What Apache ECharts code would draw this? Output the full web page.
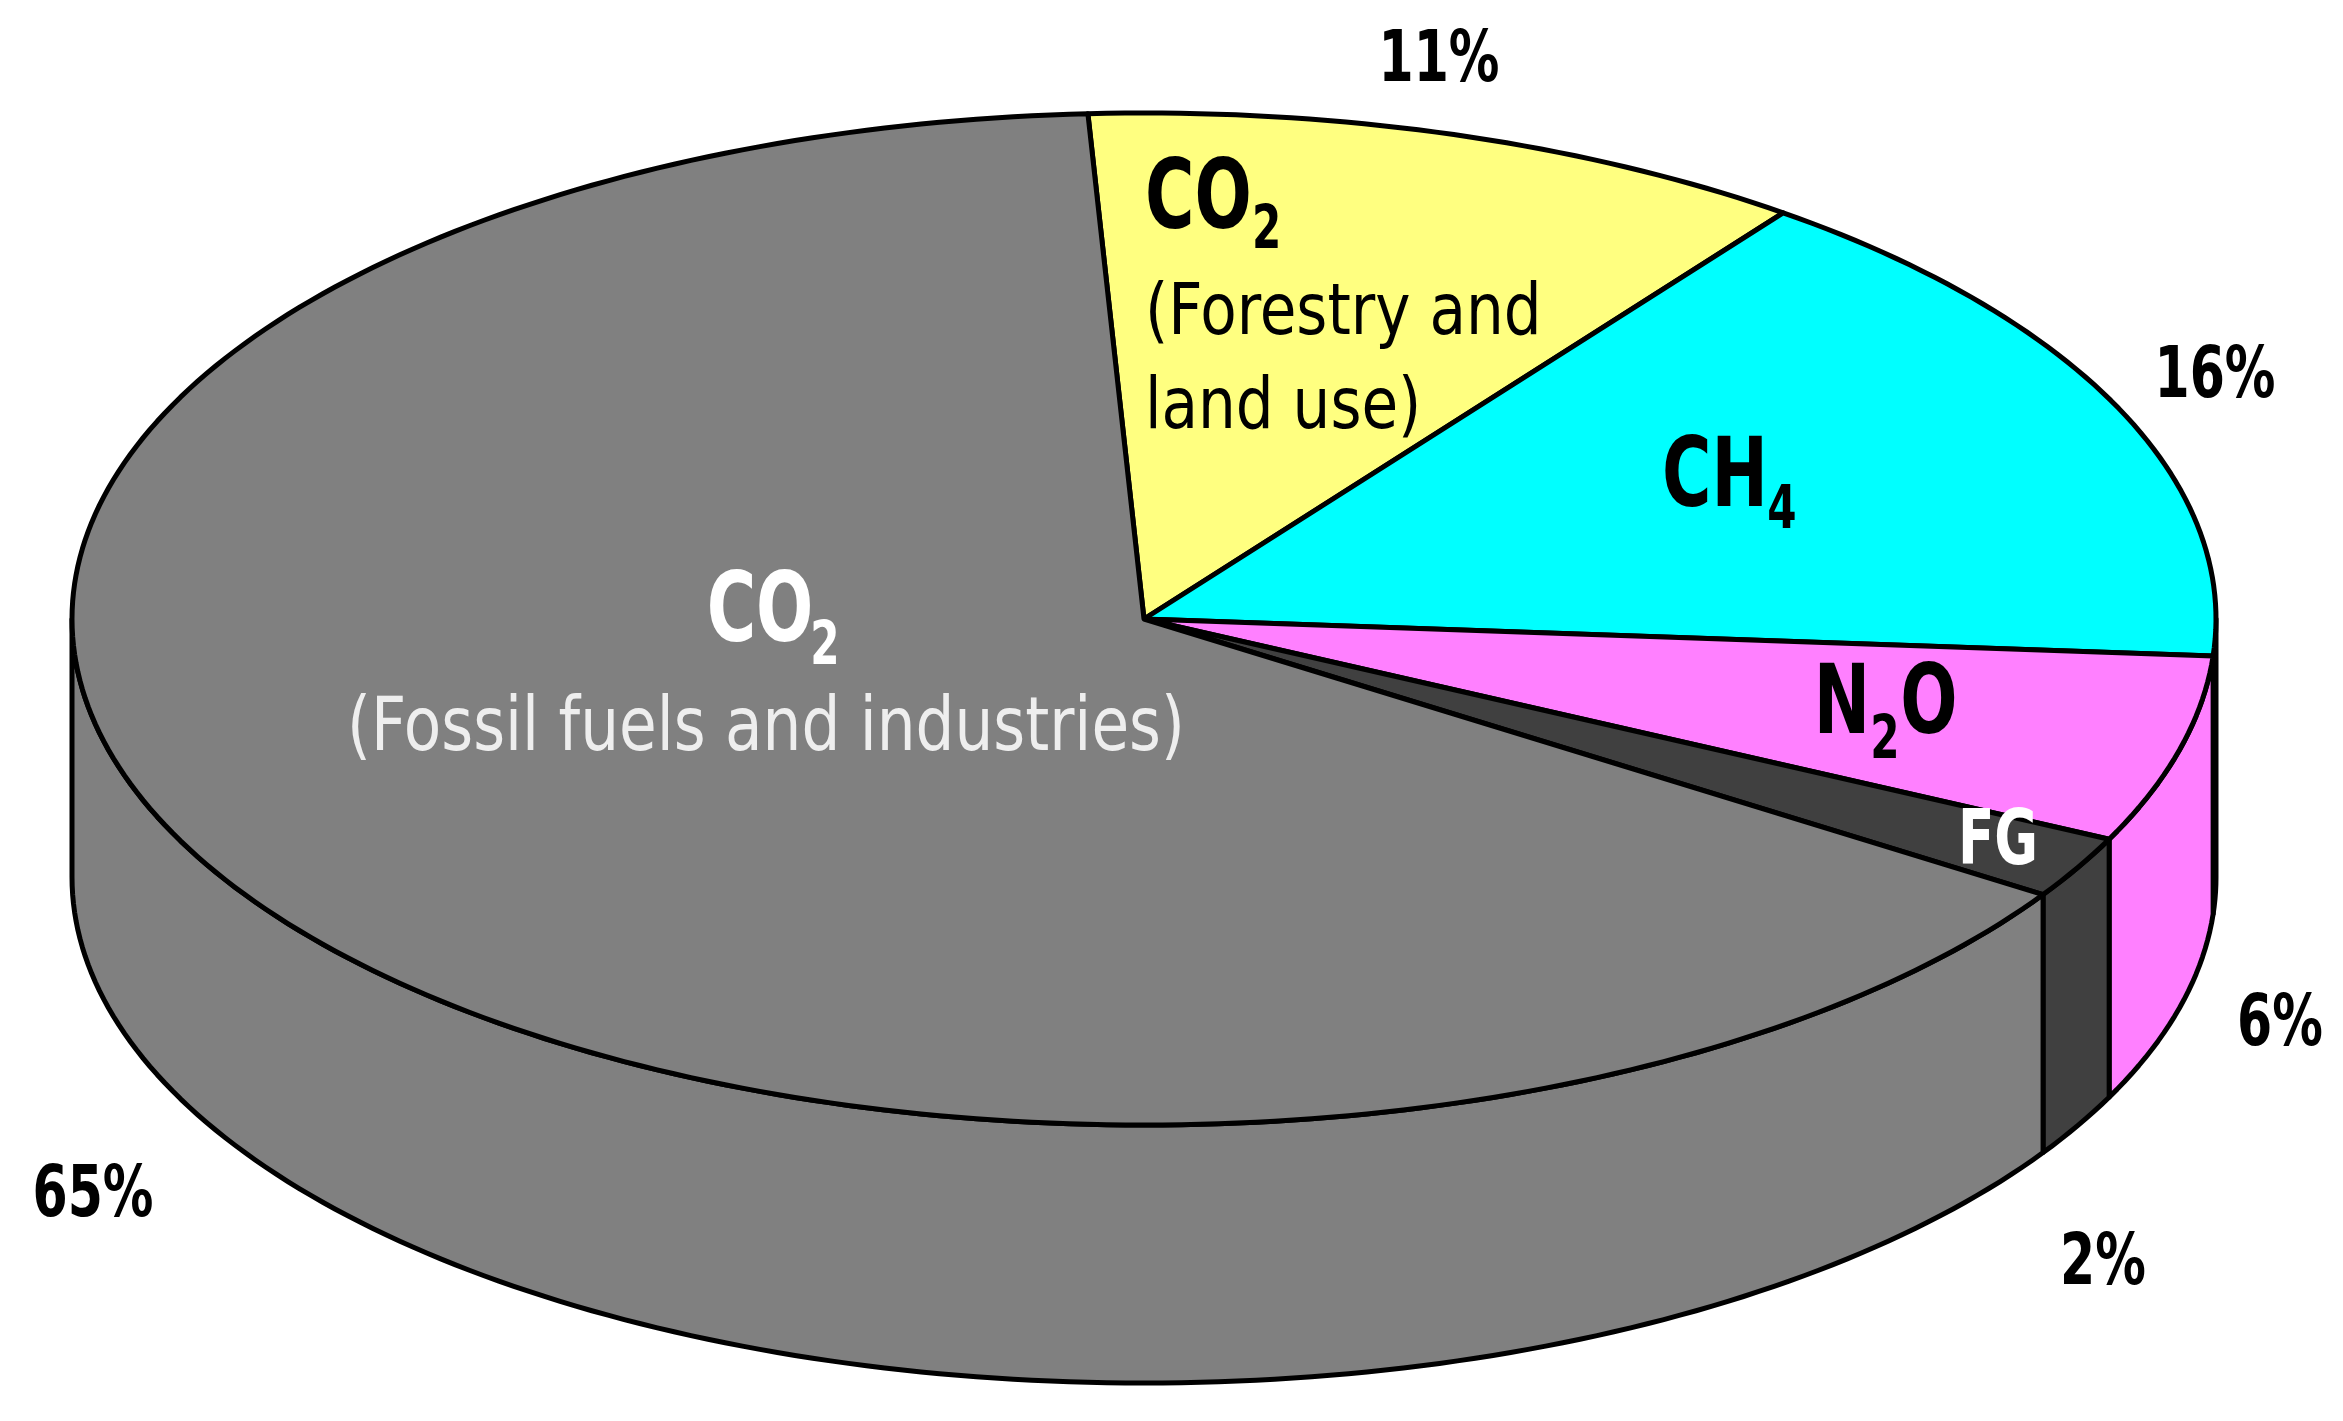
<!DOCTYPE html>
<html>
<head>
<meta charset="utf-8">
<script src="https://cdn.jsdelivr.net/npm/echarts@6/dist/echarts.min.js"></script>
<style>html,body{margin:0;background:#fff}#c{width:2343px;height:1421px}</style>
</head>
<body>
<div id="c"></div>
<script>
const names = ['CO2 forestry', 'CH4', 'N2O', 'FG', 'CO2 fossil'];
const shares = [11, 16, 6, 2, 65];
const colors = ['#ffff80', '#00ffff', '#ff80ff', '#404040', '#808080'];
const percentLabels = ['11%', '16%', '6%', '2%', '65%'];

const CX = 1144, CY = 619, RX = 1072, RY = 506, DEPTH = 258, START = 93;
const FONT = '"DejaVu Sans Condensed", "DejaVu Sans", sans-serif';

const total = shares.reduce((a, b) => a + b, 0);
let acc = START;
const slices = shares.map(v => {
    const a1 = acc;
    acc -= v / total * 360;
    return [a1, acc];
});

function pt(t, dy) {
    const r = t * Math.PI / 180;
    return [CX + RX * Math.cos(r), CY - RY * Math.sin(r) + (dy || 0)];
}
function arc(a, b, dy) {
    const pts = [];
    const n = Math.max(2, Math.ceil(Math.abs(a - b)));
    for (let i = 0; i <= n; i++) pts.push(pt(a + (b - a) * i / n, dy));
    return pts;
}

function renderItem(params, api) {
    const i = params.dataIndex;
    const a1 = api.value(0), a2 = api.value(1);
    const style = { fill: colors[i], stroke: '#000', lineWidth: 5, lineJoin: 'round' };
    const children = [];
    // visible front side: parametric angles in [-180, 0]
    const lo = Math.max(a2, -180), hi = Math.min(a1, 0);
    if (hi > lo) {
        const top = arc(hi, lo, 0);
        const bot = arc(lo, hi, DEPTH);
        children.push({ type: 'polygon', shape: { points: top.concat(bot) }, style });
    }
    const top = [[CX, CY]].concat(arc(a1, a2, 0));
    children.push({ type: 'polygon', shape: { points: top }, style });
    return { type: 'group', children };
}

function txt(x, y, text, size, color, align, weight, sx) {
    return {
        type: 'text', x, y, z: 100, scaleX: sx || 0.78,
        style: { text, fontSize: size, fontWeight: weight || 'bold', fontFamily: FONT, fill: color || '#000', align: align || 'center', verticalAlign: 'middle' }
    };
}
function txtN(x, y, text, size, color, align) {
    return txt(x, y, text, size, color, align, 'normal', 0.92);
}

const chart = echarts.init(document.getElementById('c'));
chart.setOption({
    animation: false,
    series: [{
        type: 'custom',
        coordinateSystem: 'none',
        renderItem,
        data: slices
    }],
    graphic: [
        txt(1439, 62, percentLabels[0], 72),
        txt(2215, 378, percentLabels[1], 72),
        txt(2280, 1026, percentLabels[2], 72),
        txt(2103, 1265, percentLabels[3], 72),
        txt(93, 1197, percentLabels[4], 72),
        txt(1145, 203, 'CO', 96, '#000', 'left'),
        txt(1252, 232, '2', 60, '#000', 'left'),
        txtN(1145, 315, '(Forestry and', 72, '#000', 'left'),
        txtN(1145, 409, 'land use)', 72, '#000', 'left'),
        txt(1715, 481, 'CH', 96, '#000', 'center'),
        txt(1782, 512, '4', 60, '#000', 'center'),
        txt(1842, 708, 'N', 96, '#000', 'center'),
        txt(1885, 742, '2', 60, '#000', 'center'),
        txt(1929, 708, 'O', 96, '#000', 'center'),
        txt(1998, 844, 'FG', 76, '#fff', 'center'),
        txt(760, 616, 'CO', 96, '#fff', 'center'),
        txt(825, 648, '2', 60, '#fff', 'center'),
        txtN(766, 731, '(Fossil fuels and industries)', 74, '#eeeeee', 'center')
    ]
});
</script>
</body>
</html>
